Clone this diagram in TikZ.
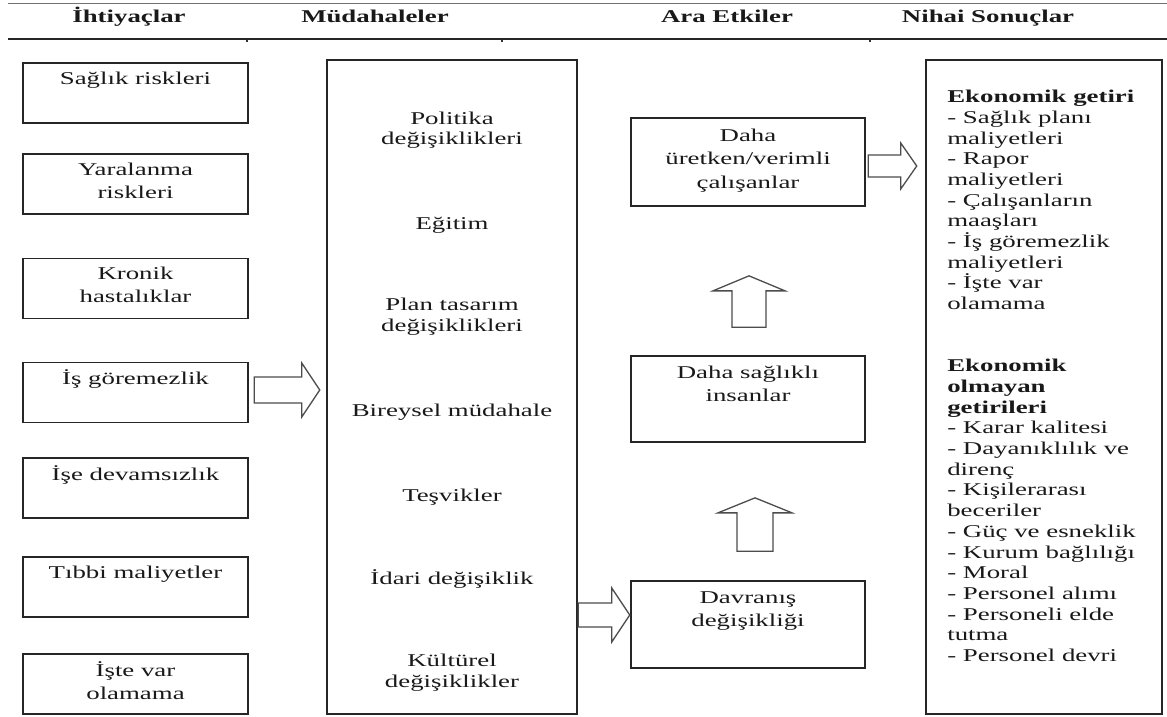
\documentclass[tikz,border=0pt]{standalone}
\usepackage{fontspec}
\setmainfont{Liberation Serif}
\usetikzlibrary{calc}

% hollow block arrow pointing right: start, tip, shaft half-height, head half-height, head length
\newcommand\harrow[5]{%
  \draw[hollow] let \p1=(#1), \p2=(#2) in
    (\x1,\y1+#3) -- (\x2-#5,\y1+#3) -- (\x2-#5,\y1+#4) -- (\x2,\y1)
    -- (\x2-#5,\y1-#4) -- (\x2-#5,\y1-#3) -- (\x1,\y1-#3) -- cycle;}
% hollow block arrow pointing up: base, tip, shaft half-width, head half-width, head length
\newcommand\varrow[5]{%
  \draw[hollow] let \p1=(#1), \p2=(#2) in
    (\x1-#3,\y1) -- (\x1-#3,\y2-#5) -- (\x1-#4,\y2-#5) -- (\x1,\y2)
    -- (\x1+#4,\y2-#5) -- (\x1+#3,\y2-#5) -- (\x1+#3,\y1) -- cycle;}

\begin{document}
\begin{tikzpicture}[x=1pt,y=-1pt,
  every node/.style={inner sep=0pt, text=black!90},
  sx/.style={xscale=1.49},
  hdr/.style={sx, font=\bfseries\fontsize{18}{22}\selectfont, anchor=base},
  frame/.style={draw=black!85, line width=1.7pt},
  struts/.style={execute at begin node=\strut, execute at end node=\strut},
  needbox/.style={frame, sx, minimum width=151pt, minimum height=60pt,
    align=center, font=\fontsize{18}{23}\selectfont, struts},
  effbox/.style={frame, sx, minimum width=157pt, align=center,
    font=\fontsize{18}{23.5}\selectfont, struts},
  bigbox/.style={frame, sx, minimum height=654pt},
  itemtxt/.style={sx, align=center, font=\fontsize{18}{20.5}\selectfont, struts},
  listtxt/.style={sx, align=left, font=\fontsize{18}{20.7}\selectfont, struts, anchor=north west},
  hollow/.style={draw=black!70, line width=1.3pt, fill=white, line join=miter}
]
\useasboundingbox (0,0) rectangle (1167,717);
\fill[white] (0,0) rectangle (1167,717);

% table header
\draw[black!55, line width=0.9pt] (8,3.5) -- (1167,3.5);
\draw[black!85, line width=2pt] (8,39.5) -- (1167,39.5);
\foreach \t in {247,502,870} \draw[black!80, line width=1.2pt] (\t,40) -- (\t,42.5);
\node[hdr] (h1) at (129,22.5) {İhtiyaçlar};
\node[hdr] (h2) at (375,22.5) {Müdahaleler};
\node[hdr] (h3) at (727,22.5) {Ara Etkiler};
\node[hdr] (h4) at (988,22.5) {Nihai Sonuçlar};

% needs
\node[needbox] (need1) at (135.5,93)    {Sağlık riskleri\\\mbox{}};
\node[needbox] (need2) at (135.5,184)   {Yaralanma\\riskleri};
\node[needbox] (need3) at (135.5,288.5) {Kronik\\hastalıklar};
\node[needbox] (need4) at (135.5,392.5) {İş göremezlik\\\mbox{}};
\node[needbox] (need5) at (135.5,488)   {İşe devamsızlık\\\mbox{}};
\node[needbox] (need6) at (135.5,587)   {Tıbbi maliyetler\\\mbox{}};
\node[needbox] (need7) at (135.5,684)   {İşte var\\olamama};

% interventions
\node[bigbox, minimum width=167.8pt] (mud) at (452,387) {};
\node[itemtxt] (m1) at (452,131.5) {Politika\\değişiklikleri};
\node[itemtxt] (m2) at (452,225)   {Eğitim};
\node[itemtxt] (m3) at (452,318)   {Plan tasarım\\değişiklikleri};
\node[itemtxt] (m4) at (452,412)   {Bireysel müdahale};
\node[itemtxt] (m5) at (452,497)   {Teşvikler};
\node[itemtxt] (m6) at (452,580)   {İdari değişiklik};
\node[itemtxt] (m7) at (452,674)   {Kültürel\\değişiklikler};

% intermediate effects
\node[effbox, minimum height=88pt] (uret) at (748,162)   {Daha\\üretken/verimli\\çalışanlar};
\node[effbox, minimum height=86pt] (sag)  at (748,399)   {Daha sağlıklı\\insanlar\\\mbox{}};
\node[effbox, minimum height=87pt] (davr) at (748,624.5) {Davranış\\değişikliği\\\mbox{}};

% final outcomes
\node[bigbox, minimum width=158.4pt] (son) at (1044,387) {};
\node[listtxt] (sonlist) at (947,90) {%
  \textbf{Ekonomik getiri}\\
  - Sağlık planı\\
  maliyetleri\\
  - Rapor\\
  maliyetleri\\
  - Çalışanların\\
  maaşları\\
  - İş göremezlik\\
  maliyetleri\\
  - İşte var\\
  olamama\\[41.4pt]
  \textbf{Ekonomik}\\
  \textbf{olmayan}\\
  \textbf{getirileri}\\
  - Karar kalitesi\\
  - Dayanıklılık ve\\
  direnç\\
  - Kişilerarası\\
  beceriler\\
  - Güç ve esneklik\\
  - Kurum bağlılığı\\
  - Moral\\
  - Personel alımı\\
  - Personeli elde\\
  tutma\\
  - Personel devri};

% block arrows
\coordinate (a1s) at ($(need4.east)+(5,-2.5)$);
\coordinate (a1e) at ($(a1s -| mud.west)+(-6,0)$);
\harrow{a1s}{a1e}{13pt}{27pt}{18pt}

\coordinate (a2e) at ($(davr.west)+(0,-9.5)$);
\coordinate (a2s) at (a2e -| mud.east);
\harrow{a2s}{a2e}{12pt}{27pt}{18pt}

\coordinate (a3s) at ($(uret.east)+(2,4)$);
\coordinate (a3e) at ($(a3s -| son.west)+(-8,0)$);
\harrow{a3s}{a3e}{11pt}{23pt}{16pt}

\coordinate (a4s) at ($(sag.north)+(1,-28)$);
\coordinate (a4e) at ($(a4s |- uret.south)+(0,69)$);
\varrow{a4s}{a4e}{17pt}{36pt}{15pt}

\coordinate (a5s) at ($(davr.north)+(7,-29)$);
\coordinate (a5e) at ($(a5s |- sag.south)+(0,55)$);
\varrow{a5s}{a5e}{18pt}{37pt}{15pt}
\end{tikzpicture}
\end{document}
